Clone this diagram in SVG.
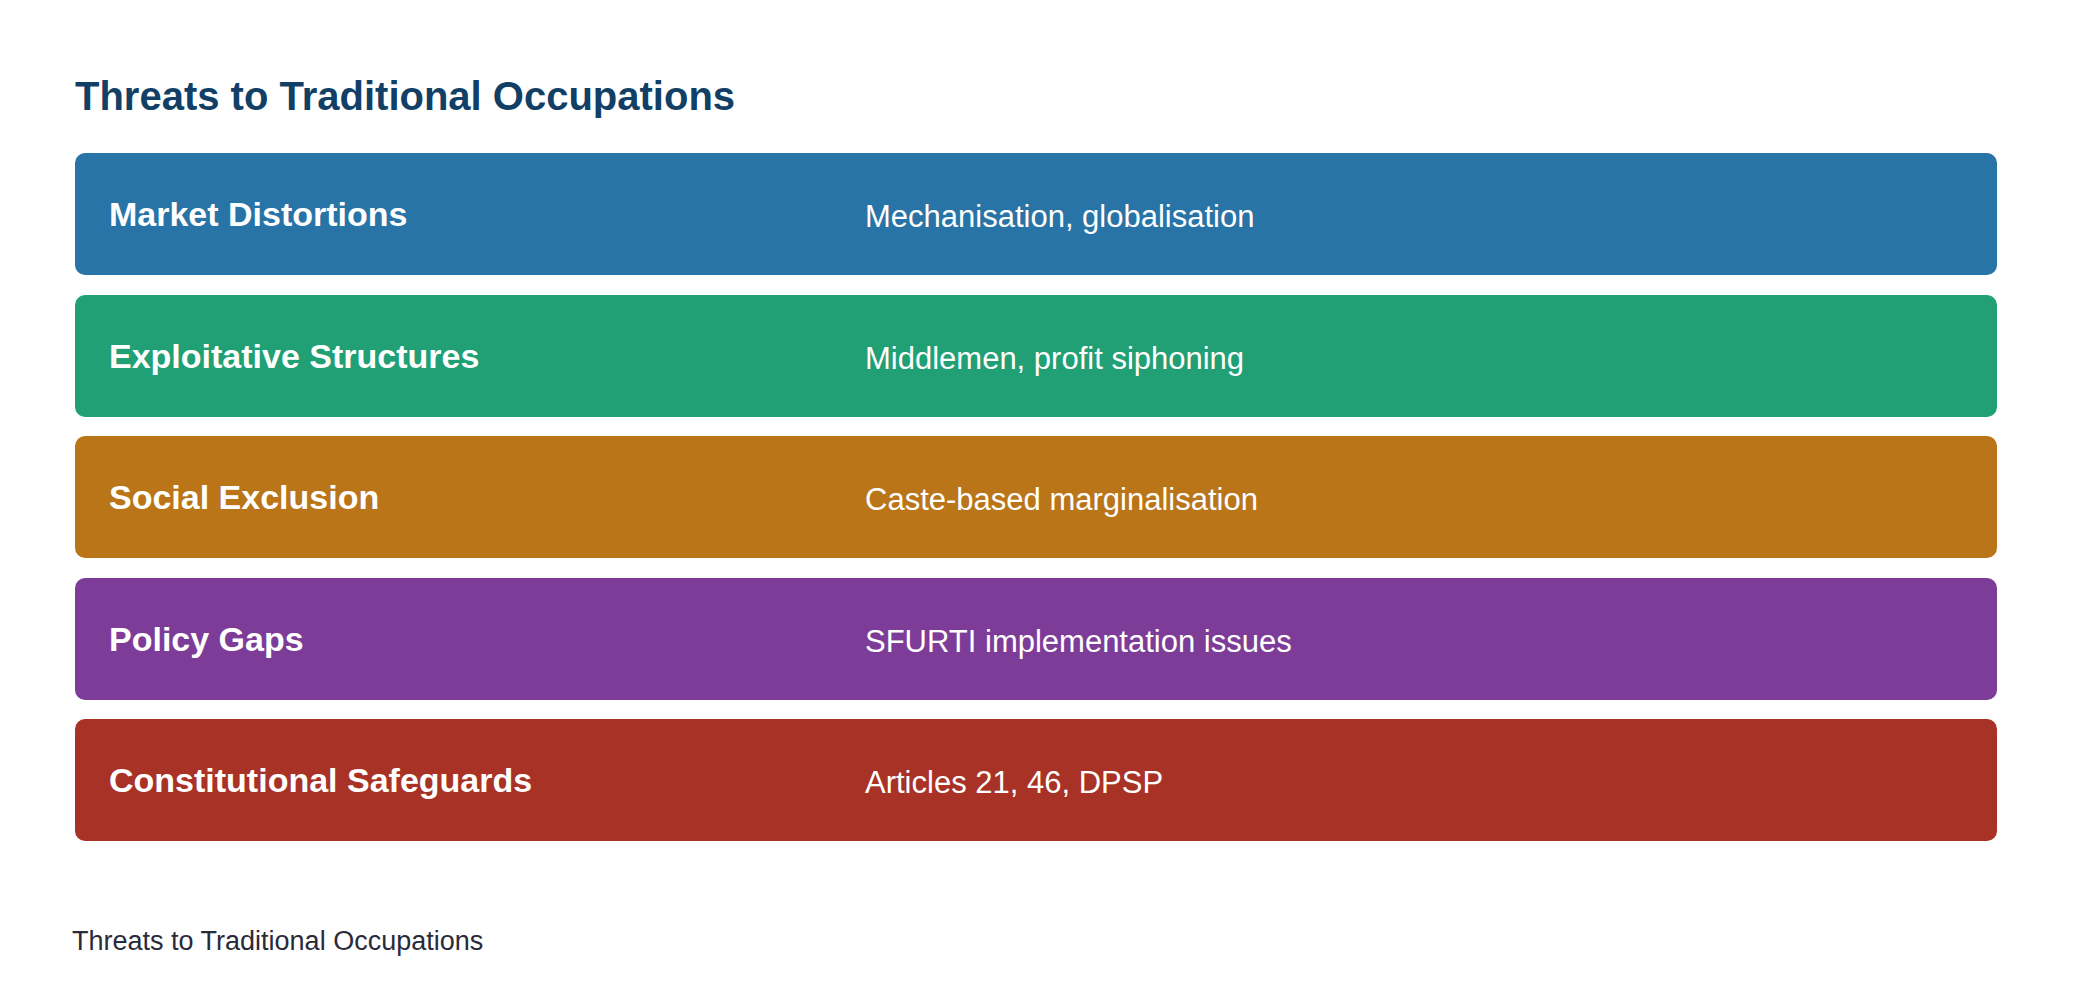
<svg xmlns="http://www.w3.org/2000/svg" width="2080" height="1006" viewBox="0 0 2080 1006">
<style>
.t{font-family:"Liberation Sans",Arial,sans-serif;}
.h{font-size:40px;font-weight:bold;fill:#123f66}
.l{font-size:34px;font-weight:bold;fill:#fff}
.d{font-size:31px;fill:#fff}
.f{font-size:27px;fill:#2a2a3a}
</style>
<rect width="2080" height="1006" fill="#fff"/>
<text class="t h" x="75" y="110">Threats to Traditional Occupations</text>
<g id="market"><rect x="75" y="153" width="1922" height="122" rx="10" fill="#2874a6"/><text class="t l" x="109" y="226">Market Distortions</text><text class="t d" x="865" y="227">Mechanisation, globalisation</text></g>
<g id="exploit"><rect x="75" y="295" width="1922" height="122" rx="10" fill="#20a074"/><text class="t l" x="109" y="368">Exploitative Structures</text><text class="t d" x="865" y="369">Middlemen, profit siphoning</text></g>
<g id="social"><rect x="75" y="436" width="1922" height="122" rx="10" fill="#ba7519"/><text class="t l" x="109" y="509">Social Exclusion</text><text class="t d" x="865" y="510">Caste-based marginalisation</text></g>
<g id="policy"><rect x="75" y="578" width="1922" height="122" rx="10" fill="#7d3c98"/><text class="t l" x="109" y="651">Policy Gaps</text><text class="t d" x="865" y="652">SFURTI implementation issues</text></g>
<g id="const"><rect x="75" y="719" width="1922" height="122" rx="10" fill="#a93226"/><text class="t l" x="109" y="792">Constitutional Safeguards</text><text class="t d" x="865" y="793">Articles 21, 46, DPSP</text></g>
<g id="connectors"/>
<text class="t f" x="72" y="950">Threats to Traditional Occupations</text>
</svg>
